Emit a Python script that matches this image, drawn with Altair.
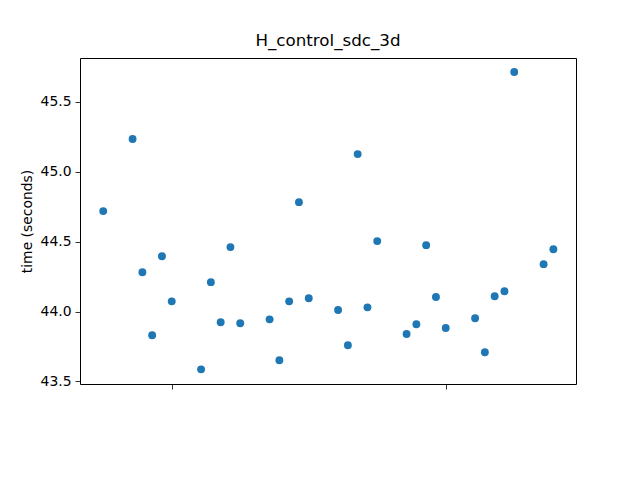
import altair as alt
import pandas as pd

dates = [
    "2019-01-25",
    "2019-01-28", "2019-01-29", "2019-01-30", "2019-01-31", "2019-02-01",
    "2019-02-04", "2019-02-05", "2019-02-06", "2019-02-07", "2019-02-08",
    "2019-02-11", "2019-02-12", "2019-02-13", "2019-02-14", "2019-02-15",
    "2019-02-18", "2019-02-19", "2019-02-20", "2019-02-21", "2019-02-22",
    "2019-02-25", "2019-02-26", "2019-02-27", "2019-02-28", "2019-03-01",
    "2019-03-04", "2019-03-05", "2019-03-06", "2019-03-07", "2019-03-08",
    "2019-03-11", "2019-03-12",
]
times = [
    44.719,
    45.235, 44.281, 43.830, 44.396, 44.073,
    43.586, 44.210, 43.923, 44.461, 43.916,
    43.944, 43.651, 44.073, 44.783, 44.095,
    44.011, 43.758, 45.127, 44.030, 44.504,
    43.839, 43.909, 44.475, 44.104, 43.882,
    43.952, 43.708, 44.109, 44.145, 45.715,
    44.339, 44.446,
]
x_ticks = ["2019-02-01", "2019-03-01"]
y_ticks = [43.5, 44.0, 44.5, 45.0, 45.5]
y_domain = [43.481, 45.815]

df = pd.DataFrame({"date": pd.to_datetime(dates), "time": times})

x_tick_vals = [alt.DateTime(year=int(d[:4]), month=int(d[5:7]), date=int(d[8:10])) for d in x_ticks]
x_dom = [alt.DateTime(year=2019, month=1, date=22, hours=15),
         alt.DateTime(year=2019, month=3, date=14, hours=7, minutes=30)]

chart = alt.Chart(df).mark_circle(
    size=62, color="#1f77b4", opacity=1
).encode(
    x=alt.X("date:T", scale=alt.Scale(domain=x_dom, nice=False),
            axis=alt.Axis(values=x_tick_vals, labels=False, title=None, grid=False,
                          domain=False, tickColor="black", tickSize=5, tickWidth=0.8)),
    y=alt.Y("time:Q", scale=alt.Scale(domain=y_domain, nice=False, zero=False),
            axis=alt.Axis(values=y_ticks, format=".1f", grid=False, domain=False,
                          title="time (seconds)", titleFont="DejaVu Sans",
                          titleFontSize=13.9, titleFontWeight="normal", titleColor="black",
                          titleX=-53, titleY=163, titleAngle=-90, titleAlign="center",
                          titleBaseline="middle",
                          labelFont="DejaVu Sans", labelFontSize=13.9, labelColor="black",
                          labelPadding=4, tickColor="black", tickSize=5, tickWidth=0.8)),
).properties(
    width=496,
    height=326,
    background="white",
    title=alt.TitleParams("H_control_sdc_3d", font="DejaVu Sans", fontSize=16.7,
                          fontWeight="normal", color="black", offset=8, anchor="middle"),
    autosize=alt.AutoSizeParams(type="none"),
    padding={"left": 72, "top": 50, "right": 56, "bottom": 88},
).configure_view(
    stroke="black", strokeWidth=1
)

chart.save("out.html", embed_options={"renderer": "svg", "actions": False})
